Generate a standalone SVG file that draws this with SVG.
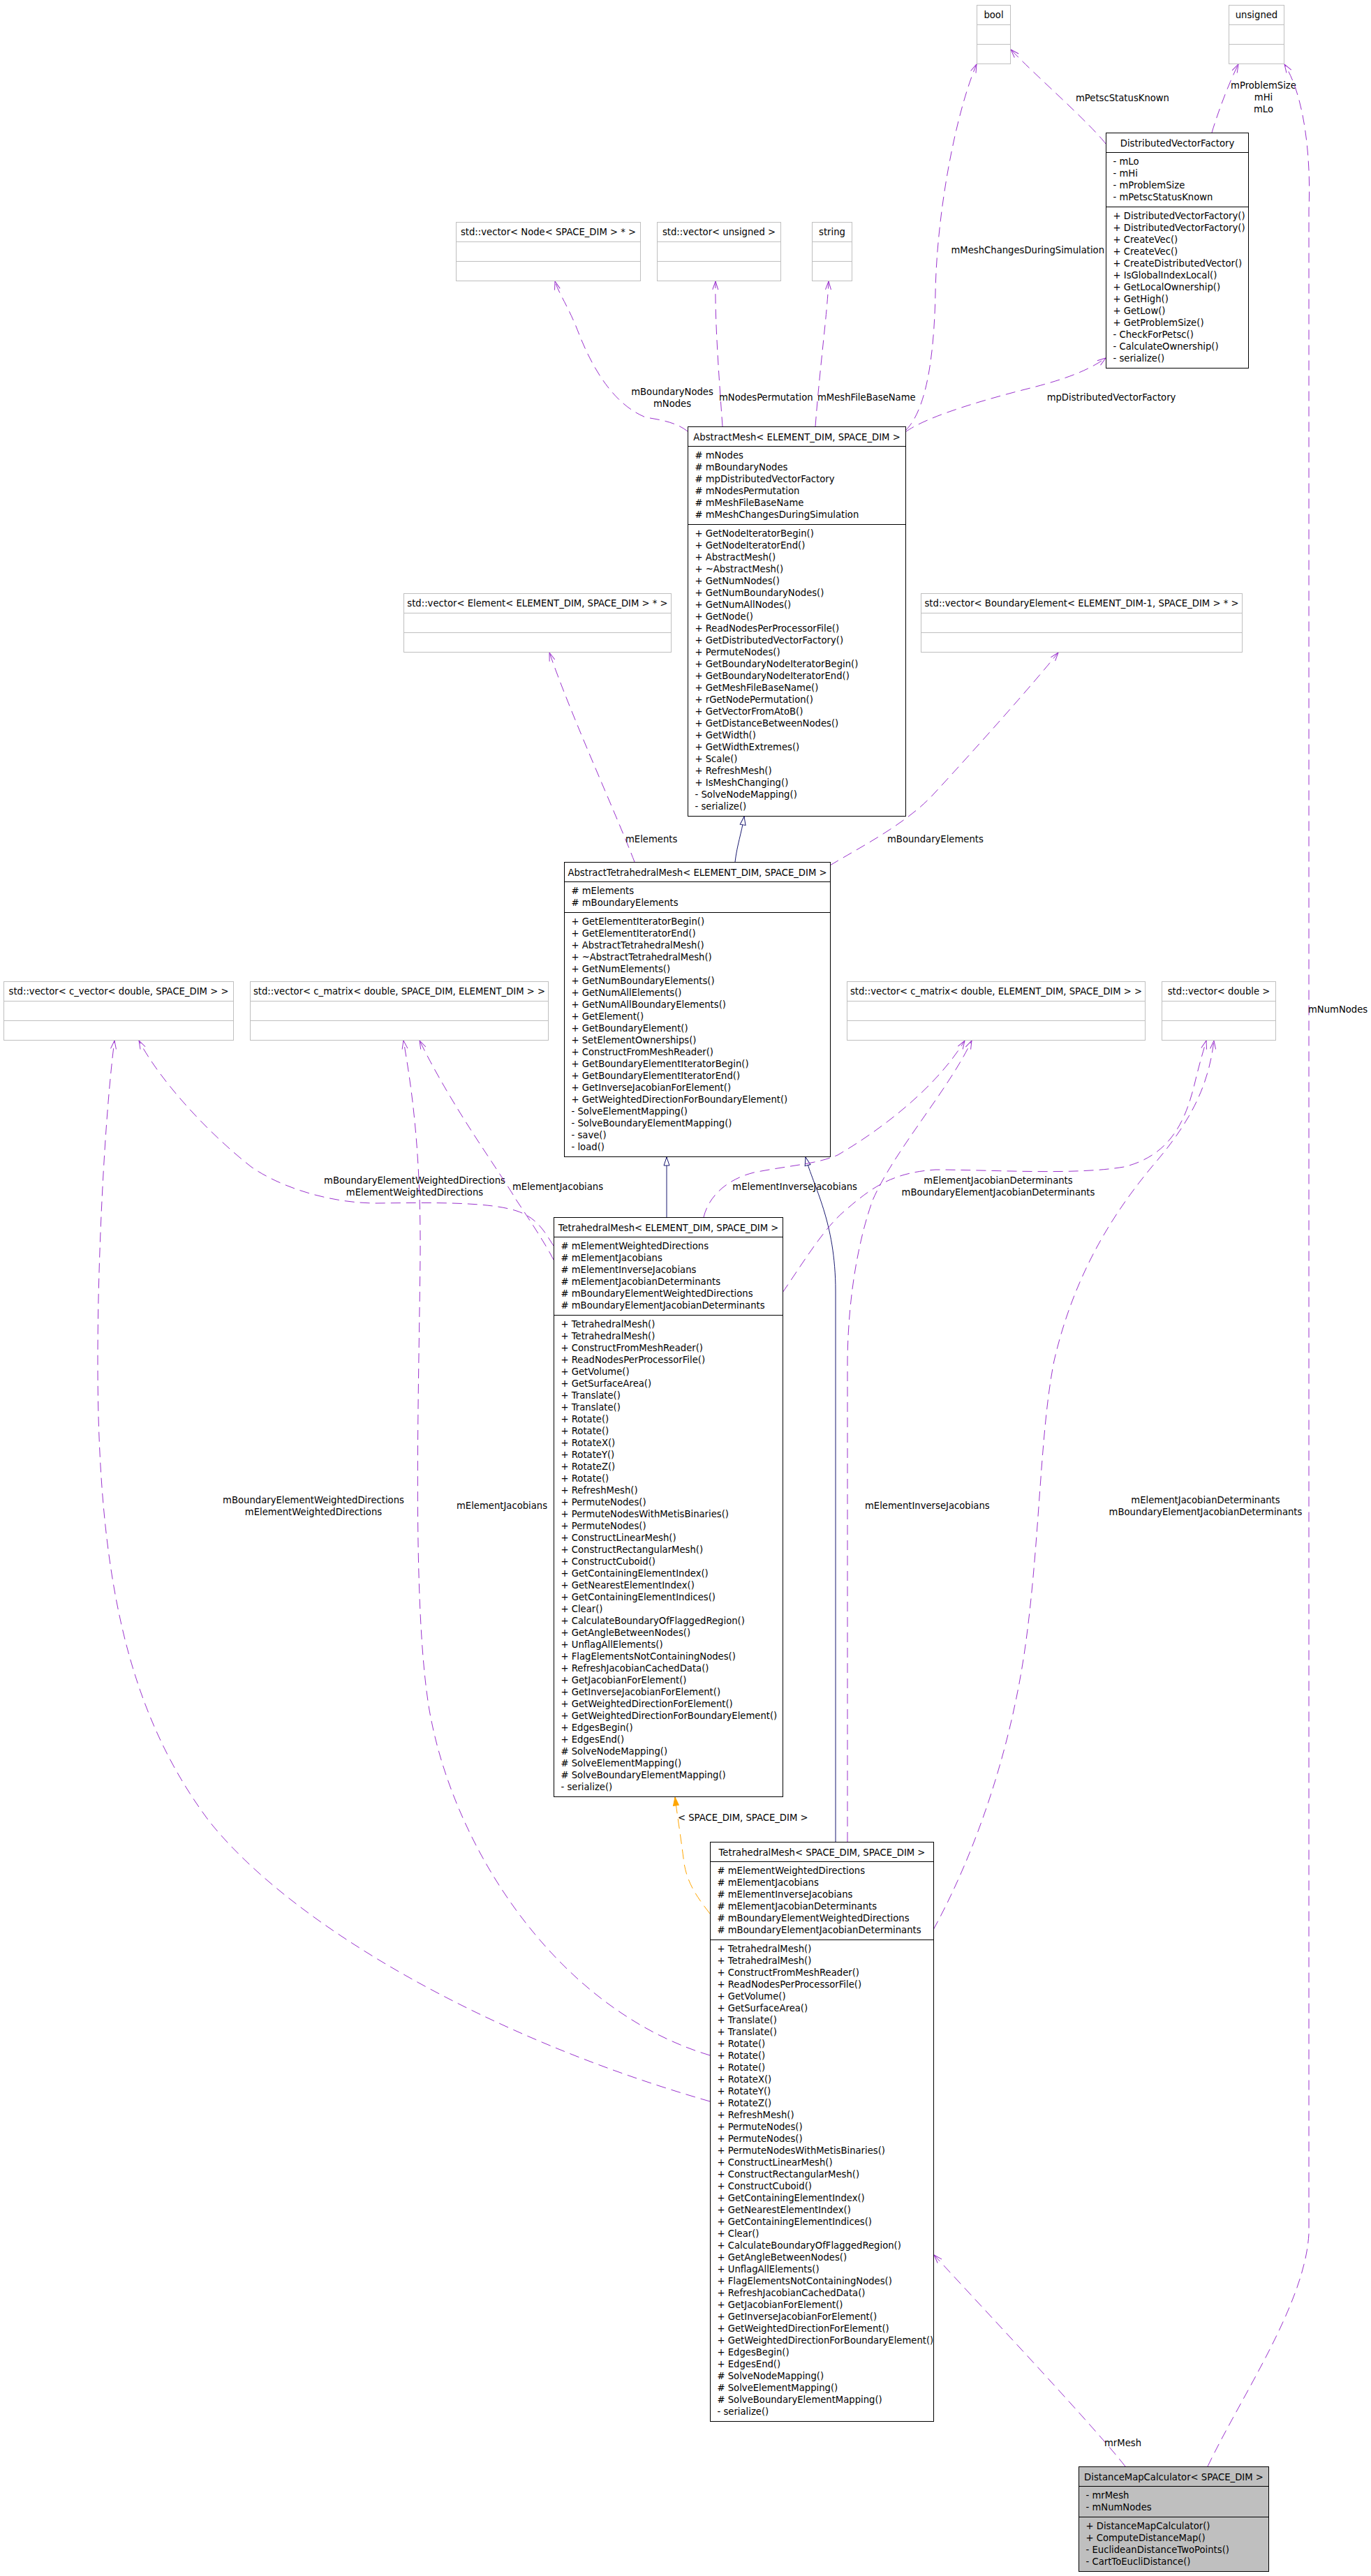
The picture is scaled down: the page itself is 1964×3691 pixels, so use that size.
<svg xmlns="http://www.w3.org/2000/svg" width="1964" height="3691" viewBox="0 0 1964 3691">
<style>
text{font-family:"DejaVu Sans","Liberation Sans",sans-serif;font-size:13.2px;fill:#000}
.c{text-anchor:middle}
.nb{fill:#fff;stroke:#000;stroke-width:1}
.gb{fill:#fff;stroke:#bfbfbf;stroke-width:1}
.db{fill:#bfbfbf;stroke:#000;stroke-width:1}
.nl{stroke:#000;stroke-width:1}
.gl{stroke:#bfbfbf;stroke-width:1}
.u{fill:none;stroke:#9a32cd;stroke-width:1;stroke-dasharray:14,8}
.h{fill:none;stroke:#191970;stroke-width:1}
.o{fill:none;stroke:#ffa500;stroke-width:1;stroke-dasharray:14,8}
</style>
<defs>
<marker id="ao" viewBox="0 0 14 10" refX="13" refY="5" markerWidth="14" markerHeight="10" markerUnits="userSpaceOnUse" orient="auto"><path d="M1,1 L13,5 L1,9" fill="none" stroke="#9a32cd"/></marker>
<marker id="ag" viewBox="0 0 14 10" refX="13" refY="5" markerWidth="14" markerHeight="10" markerUnits="userSpaceOnUse" orient="auto"><path d="M1,1 L13,5 L1,9 Z" fill="#fff" stroke="#191970"/></marker>
<marker id="at" viewBox="0 0 14 10" refX="13" refY="5" markerWidth="14" markerHeight="10" markerUnits="userSpaceOnUse" orient="auto"><path d="M1,1 L13,5 L1,9 Z" fill="#ffa500" stroke="#ffa500"/></marker>
</defs>
<g id="edges">
<path class="u" marker-end="url(#ao)" d="M1584,206 C1560,175 1480,105 1448,71"/>
<text x="1541" y="144.5">mPetscStatusKnown</text>
<path class="u" marker-end="url(#ao)" d="M1736,190 C1745,160 1760,120 1774,92"/>
<text class="c" x="1810" y="127">mProblemSize</text>
<text class="c" x="1810" y="144">mHi</text>
<text class="c" x="1810" y="161">mLo</text>
<path class="u" marker-end="url(#ao)" d="M1297,617 C1325,590 1338,520 1340,420 C1342,300 1370,160 1399,92"/>
<text x="1582" y="363" style="text-anchor:end">mMeshChangesDuringSimulation</text>
<path class="u" marker-end="url(#ao)" d="M1297,619 C1330,595 1420,570 1480,555 C1530,542 1560,530 1584,513"/>
<text class="c" x="1592" y="574">mpDistributedVectorFactory</text>
<path class="u" marker-end="url(#ao)" d="M985,618 C970,606 950,602 925,598 C880,580 850,530 830,480 C815,440 800,420 795,403"/>
<text class="c" x="963" y="565.5">mBoundaryNodes</text>
<text class="c" x="963" y="582.5">mNodes</text>
<path class="u" marker-end="url(#ao)" d="M1035,611 C1030,540 1024,460 1025,403"/>
<text x="1030" y="573.5">mNodesPermutation</text>
<path class="u" marker-end="url(#ao)" d="M1168,611 C1175,520 1185,450 1187,403"/>
<text x="1171" y="573.5">mMeshFileBaseName</text>
<path class="u" marker-end="url(#ao)" d="M909,1235 C880,1160 820,1030 787,935"/>
<text x="896" y="1207">mElements</text>
<path class="u" marker-end="url(#ao)" d="M1189,1240 C1230,1215 1300,1180 1340,1135 C1400,1070 1480,980 1516,935"/>
<text x="1271" y="1207">mBoundaryElements</text>
<path class="h" marker-end="url(#ag)" d="M1053,1235 C1056,1210 1062,1195 1066,1170"/>
<path class="h" marker-end="url(#ag)" d="M955,1744 L955,1658"/>
<path class="h" marker-end="url(#ag)" d="M1197,2639 L1197,1850 C1197,1750 1165,1700 1154,1658"/>
<path class="o" marker-end="url(#at)" d="M1017,2742 C1000,2720 985,2700 980,2670 C975,2630 970,2600 967,2575"/>
<text x="971" y="2609">&lt; SPACE_DIM, SPACE_DIM &gt;</text>
<path class="u" marker-end="url(#ao)" d="M1017,3011 C700,2920 420,2760 300,2610 C180,2450 140,2250 140,1950 C140,1800 150,1600 164,1491"/>
<text class="c" x="449" y="2153.5">mBoundaryElementWeightedDirections</text>
<text class="c" x="449" y="2170.5">mElementWeightedDirections</text>
<path class="u" marker-end="url(#ao)" d="M793,1785 C780,1765 770,1745 740,1735 C700,1722 620,1723 540,1724 C470,1724 400,1700 360,1672 C300,1625 230,1550 199,1491"/>
<text class="c" x="594" y="1695.5">mBoundaryElementWeightedDirections</text>
<text class="c" x="594" y="1712.5">mElementWeightedDirections</text>
<path class="u" marker-end="url(#ao)" d="M1017,2945 C800,2880 650,2650 615,2450 C590,2300 600,2000 602,1800 C603,1650 590,1560 578,1491"/>
<text x="654" y="2162">mElementJacobians</text>
<path class="u" marker-end="url(#ao)" d="M793,1805 C780,1780 760,1750 740,1720 C710,1670 650,1590 601,1491"/>
<text x="734" y="1705">mElementJacobians</text>
<path class="u" marker-end="url(#ao)" d="M1008,1744 C1015,1715 1040,1690 1080,1680 C1130,1670 1170,1668 1200,1655 C1260,1620 1340,1560 1382,1491"/>
<text x="1228" y="1705" style="text-anchor:end">mElementInverseJacobians</text>
<path class="u" marker-end="url(#ao)" d="M1214,2639 L1214,1950 C1215,1850 1232,1770 1250,1720 C1280,1650 1360,1560 1392,1491"/>
<text x="1239" y="2162">mElementInverseJacobians</text>
<path class="u" marker-end="url(#ao)" d="M1121,1852 C1150,1810 1180,1760 1210,1735 C1250,1700 1280,1680 1340,1676 C1420,1676 1540,1684 1610,1672 C1680,1655 1700,1600 1712,1550 C1718,1525 1724,1505 1728,1491"/>
<text class="c" x="1430" y="1695.5">mElementJacobianDeterminants</text>
<text class="c" x="1430" y="1712.5">mBoundaryElementJacobianDeterminants</text>
<path class="u" marker-end="url(#ao)" d="M1337,2765 C1400,2650 1450,2500 1470,2350 C1490,2200 1490,2050 1510,1950 C1540,1820 1600,1730 1660,1660 C1710,1600 1732,1550 1739,1491"/>
<text class="c" x="1727" y="2153.5">mElementJacobianDeterminants</text>
<text class="c" x="1727" y="2170.5">mBoundaryElementJacobianDeterminants</text>
<path class="u" marker-end="url(#ao)" d="M1612,3534 C1570,3480 1420,3320 1338,3231"/>
<text x="1582" y="3505">mrMesh</text>
<path class="u" marker-end="url(#ao)" d="M1730,3534 C1780,3430 1870,3300 1875,3200 L1875,300 C1878,230 1870,140 1840,92"/>
<text x="1874" y="1451">mNumNodes</text>
</g>
<g id="bool"><rect class="gb" x="1399.5" y="7.5" width="48" height="84"/><line class="gl" x1="1399.5" y1="35.5" x2="1447.5" y2="35.5"/><line class="gl" x1="1399.5" y1="63.5" x2="1447.5" y2="63.5"/><text class="c" x="1423.5" y="26">bool</text></g>
<g id="unsigned"><rect class="gb" x="1760.5" y="7.5" width="79" height="84"/><line class="gl" x1="1760.5" y1="35.5" x2="1839.5" y2="35.5"/><line class="gl" x1="1760.5" y1="63.5" x2="1839.5" y2="63.5"/><text class="c" x="1800" y="26">unsigned</text></g>
<g id="DistributedVectorFactory"><rect class="nb" x="1584.5" y="190.5" width="204" height="337"/><line class="nl" x1="1584.5" y1="218.5" x2="1788.5" y2="218.5"/><line class="nl" x1="1584.5" y1="296.5" x2="1788.5" y2="296.5"/>
<text class="c" x="1686.5" y="209.5">DistributedVectorFactory</text>
<text x="1594.5" y="235.5"><tspan x="1594.5" dy="0">- mLo</tspan><tspan x="1594.5" dy="17">- mHi</tspan><tspan x="1594.5" dy="17">- mProblemSize</tspan><tspan x="1594.5" dy="17">- mPetscStatusKnown</tspan></text>
<text x="1594.5" y="313.5"><tspan x="1594.5" dy="0">+ DistributedVectorFactory()</tspan><tspan x="1594.5" dy="17">+ DistributedVectorFactory()</tspan><tspan x="1594.5" dy="17">+ CreateVec()</tspan><tspan x="1594.5" dy="17">+ CreateVec()</tspan><tspan x="1594.5" dy="17">+ CreateDistributedVector()</tspan><tspan x="1594.5" dy="17">+ IsGlobalIndexLocal()</tspan><tspan x="1594.5" dy="17">+ GetLocalOwnership()</tspan><tspan x="1594.5" dy="17">+ GetHigh()</tspan><tspan x="1594.5" dy="17">+ GetLow()</tspan><tspan x="1594.5" dy="17">+ GetProblemSize()</tspan><tspan x="1594.5" dy="17">- CheckForPetsc()</tspan><tspan x="1594.5" dy="17">- CalculateOwnership()</tspan><tspan x="1594.5" dy="17">- serialize()</tspan></text></g>
<g id="vecNode"><rect class="gb" x="653.5" y="318.5" width="264" height="84"/><line class="gl" x1="653.5" y1="346.5" x2="917.5" y2="346.5"/><line class="gl" x1="653.5" y1="374.5" x2="917.5" y2="374.5"/><text class="c" x="785.5" y="337">std::vector&lt; Node&lt; SPACE_DIM &gt; * &gt;</text></g>
<g id="vecUnsigned"><rect class="gb" x="941.5" y="318.5" width="177" height="84"/><line class="gl" x1="941.5" y1="346.5" x2="1118.5" y2="346.5"/><line class="gl" x1="941.5" y1="374.5" x2="1118.5" y2="374.5"/><text class="c" x="1030" y="337">std::vector&lt; unsigned &gt;</text></g>
<g id="string"><rect class="gb" x="1163.5" y="318.5" width="57" height="84"/><line class="gl" x1="1163.5" y1="346.5" x2="1220.5" y2="346.5"/><line class="gl" x1="1163.5" y1="374.5" x2="1220.5" y2="374.5"/><text class="c" x="1192" y="337">string</text></g>
<g id="AbstractMesh"><rect class="nb" x="985.5" y="611.5" width="312" height="558"/><line class="nl" x1="985.5" y1="639.5" x2="1297.5" y2="639.5"/><line class="nl" x1="985.5" y1="751.5" x2="1297.5" y2="751.5"/>
<text class="c" x="1141.5" y="630.5">AbstractMesh&lt; ELEMENT_DIM, SPACE_DIM &gt;</text>
<text x="995.5" y="656.5"><tspan x="995.5" dy="0"># mNodes</tspan><tspan x="995.5" dy="17"># mBoundaryNodes</tspan><tspan x="995.5" dy="17"># mpDistributedVectorFactory</tspan><tspan x="995.5" dy="17"># mNodesPermutation</tspan><tspan x="995.5" dy="17"># mMeshFileBaseName</tspan><tspan x="995.5" dy="17"># mMeshChangesDuringSimulation</tspan></text>
<text x="995.5" y="768.5"><tspan x="995.5" dy="0">+ GetNodeIteratorBegin()</tspan><tspan x="995.5" dy="17">+ GetNodeIteratorEnd()</tspan><tspan x="995.5" dy="17">+ AbstractMesh()</tspan><tspan x="995.5" dy="17">+ ~AbstractMesh()</tspan><tspan x="995.5" dy="17">+ GetNumNodes()</tspan><tspan x="995.5" dy="17">+ GetNumBoundaryNodes()</tspan><tspan x="995.5" dy="17">+ GetNumAllNodes()</tspan><tspan x="995.5" dy="17">+ GetNode()</tspan><tspan x="995.5" dy="17">+ ReadNodesPerProcessorFile()</tspan><tspan x="995.5" dy="17">+ GetDistributedVectorFactory()</tspan><tspan x="995.5" dy="17">+ PermuteNodes()</tspan><tspan x="995.5" dy="17">+ GetBoundaryNodeIteratorBegin()</tspan><tspan x="995.5" dy="17">+ GetBoundaryNodeIteratorEnd()</tspan><tspan x="995.5" dy="17">+ GetMeshFileBaseName()</tspan><tspan x="995.5" dy="17">+ rGetNodePermutation()</tspan><tspan x="995.5" dy="17">+ GetVectorFromAtoB()</tspan><tspan x="995.5" dy="17">+ GetDistanceBetweenNodes()</tspan><tspan x="995.5" dy="17">+ GetWidth()</tspan><tspan x="995.5" dy="17">+ GetWidthExtremes()</tspan><tspan x="995.5" dy="17">+ Scale()</tspan><tspan x="995.5" dy="17">+ RefreshMesh()</tspan><tspan x="995.5" dy="17">+ IsMeshChanging()</tspan><tspan x="995.5" dy="17">- SolveNodeMapping()</tspan><tspan x="995.5" dy="17">- serialize()</tspan></text></g>
<g id="vecElement"><rect class="gb" x="578.5" y="850.5" width="383" height="84"/><line class="gl" x1="578.5" y1="878.5" x2="961.5" y2="878.5"/><line class="gl" x1="578.5" y1="906.5" x2="961.5" y2="906.5"/><text class="c" x="770" y="869">std::vector&lt; Element&lt; ELEMENT_DIM, SPACE_DIM &gt; * &gt;</text></g>
<g id="vecBoundaryElement"><rect class="gb" x="1319.5" y="850.5" width="460" height="84"/><line class="gl" x1="1319.5" y1="878.5" x2="1779.5" y2="878.5"/><line class="gl" x1="1319.5" y1="906.5" x2="1779.5" y2="906.5"/><text class="c" x="1549.5" y="869">std::vector&lt; BoundaryElement&lt; ELEMENT_DIM-1, SPACE_DIM &gt; * &gt;</text></g>
<g id="AbstractTetrahedralMesh"><rect class="nb" x="808.5" y="1235.5" width="381" height="422"/><line class="nl" x1="808.5" y1="1263.5" x2="1189.5" y2="1263.5"/><line class="nl" x1="808.5" y1="1307.5" x2="1189.5" y2="1307.5"/>
<text class="c" x="999" y="1254.5">AbstractTetrahedralMesh&lt; ELEMENT_DIM, SPACE_DIM &gt;</text>
<text x="818.5" y="1280.5"><tspan x="818.5" dy="0"># mElements</tspan><tspan x="818.5" dy="17"># mBoundaryElements</tspan></text>
<text x="818.5" y="1324.5"><tspan x="818.5" dy="0">+ GetElementIteratorBegin()</tspan><tspan x="818.5" dy="17">+ GetElementIteratorEnd()</tspan><tspan x="818.5" dy="17">+ AbstractTetrahedralMesh()</tspan><tspan x="818.5" dy="17">+ ~AbstractTetrahedralMesh()</tspan><tspan x="818.5" dy="17">+ GetNumElements()</tspan><tspan x="818.5" dy="17">+ GetNumBoundaryElements()</tspan><tspan x="818.5" dy="17">+ GetNumAllElements()</tspan><tspan x="818.5" dy="17">+ GetNumAllBoundaryElements()</tspan><tspan x="818.5" dy="17">+ GetElement()</tspan><tspan x="818.5" dy="17">+ GetBoundaryElement()</tspan><tspan x="818.5" dy="17">+ SetElementOwnerships()</tspan><tspan x="818.5" dy="17">+ ConstructFromMeshReader()</tspan><tspan x="818.5" dy="17">+ GetBoundaryElementIteratorBegin()</tspan><tspan x="818.5" dy="17">+ GetBoundaryElementIteratorEnd()</tspan><tspan x="818.5" dy="17">+ GetInverseJacobianForElement()</tspan><tspan x="818.5" dy="17">+ GetWeightedDirectionForBoundaryElement()</tspan><tspan x="818.5" dy="17">- SolveElementMapping()</tspan><tspan x="818.5" dy="17">- SolveBoundaryElementMapping()</tspan><tspan x="818.5" dy="17">- save()</tspan><tspan x="818.5" dy="17">- load()</tspan></text></g>
<g id="vecCVector"><rect class="gb" x="5.5" y="1406.5" width="329" height="84"/><line class="gl" x1="5.5" y1="1434.5" x2="334.5" y2="1434.5"/><line class="gl" x1="5.5" y1="1462.5" x2="334.5" y2="1462.5"/><text class="c" x="170" y="1425">std::vector&lt; c_vector&lt; double, SPACE_DIM &gt; &gt;</text></g>
<g id="vecCMatrixSE"><rect class="gb" x="358.5" y="1406.5" width="427" height="84"/><line class="gl" x1="358.5" y1="1434.5" x2="785.5" y2="1434.5"/><line class="gl" x1="358.5" y1="1462.5" x2="785.5" y2="1462.5"/><text class="c" x="572" y="1425">std::vector&lt; c_matrix&lt; double, SPACE_DIM, ELEMENT_DIM &gt; &gt;</text></g>
<g id="vecCMatrixES"><rect class="gb" x="1213.5" y="1406.5" width="427" height="84"/><line class="gl" x1="1213.5" y1="1434.5" x2="1640.5" y2="1434.5"/><line class="gl" x1="1213.5" y1="1462.5" x2="1640.5" y2="1462.5"/><text class="c" x="1427" y="1425">std::vector&lt; c_matrix&lt; double, ELEMENT_DIM, SPACE_DIM &gt; &gt;</text></g>
<g id="vecDouble"><rect class="gb" x="1664.5" y="1406.5" width="163" height="84"/><line class="gl" x1="1664.5" y1="1434.5" x2="1827.5" y2="1434.5"/><line class="gl" x1="1664.5" y1="1462.5" x2="1827.5" y2="1462.5"/><text class="c" x="1746" y="1425">std::vector&lt; double &gt;</text></g>
<g id="TetrahedralMeshES"><rect class="nb" x="793.5" y="1744.5" width="328" height="830"/><line class="nl" x1="793.5" y1="1772.5" x2="1121.5" y2="1772.5"/><line class="nl" x1="793.5" y1="1884.5" x2="1121.5" y2="1884.5"/>
<text class="c" x="957.5" y="1763.5">TetrahedralMesh&lt; ELEMENT_DIM, SPACE_DIM &gt;</text>
<text x="803.5" y="1789.5"><tspan x="803.5" dy="0"># mElementWeightedDirections</tspan><tspan x="803.5" dy="17"># mElementJacobians</tspan><tspan x="803.5" dy="17"># mElementInverseJacobians</tspan><tspan x="803.5" dy="17"># mElementJacobianDeterminants</tspan><tspan x="803.5" dy="17"># mBoundaryElementWeightedDirections</tspan><tspan x="803.5" dy="17"># mBoundaryElementJacobianDeterminants</tspan></text>
<text x="803.5" y="1901.5"><tspan x="803.5" dy="0">+ TetrahedralMesh()</tspan><tspan x="803.5" dy="17">+ TetrahedralMesh()</tspan><tspan x="803.5" dy="17">+ ConstructFromMeshReader()</tspan><tspan x="803.5" dy="17">+ ReadNodesPerProcessorFile()</tspan><tspan x="803.5" dy="17">+ GetVolume()</tspan><tspan x="803.5" dy="17">+ GetSurfaceArea()</tspan><tspan x="803.5" dy="17">+ Translate()</tspan><tspan x="803.5" dy="17">+ Translate()</tspan><tspan x="803.5" dy="17">+ Rotate()</tspan><tspan x="803.5" dy="17">+ Rotate()</tspan><tspan x="803.5" dy="17">+ RotateX()</tspan><tspan x="803.5" dy="17">+ RotateY()</tspan><tspan x="803.5" dy="17">+ RotateZ()</tspan><tspan x="803.5" dy="17">+ Rotate()</tspan><tspan x="803.5" dy="17">+ RefreshMesh()</tspan><tspan x="803.5" dy="17">+ PermuteNodes()</tspan><tspan x="803.5" dy="17">+ PermuteNodesWithMetisBinaries()</tspan><tspan x="803.5" dy="17">+ PermuteNodes()</tspan><tspan x="803.5" dy="17">+ ConstructLinearMesh()</tspan><tspan x="803.5" dy="17">+ ConstructRectangularMesh()</tspan><tspan x="803.5" dy="17">+ ConstructCuboid()</tspan><tspan x="803.5" dy="17">+ GetContainingElementIndex()</tspan><tspan x="803.5" dy="17">+ GetNearestElementIndex()</tspan><tspan x="803.5" dy="17">+ GetContainingElementIndices()</tspan><tspan x="803.5" dy="17">+ Clear()</tspan><tspan x="803.5" dy="17">+ CalculateBoundaryOfFlaggedRegion()</tspan><tspan x="803.5" dy="17">+ GetAngleBetweenNodes()</tspan><tspan x="803.5" dy="17">+ UnflagAllElements()</tspan><tspan x="803.5" dy="17">+ FlagElementsNotContainingNodes()</tspan><tspan x="803.5" dy="17">+ RefreshJacobianCachedData()</tspan><tspan x="803.5" dy="17">+ GetJacobianForElement()</tspan><tspan x="803.5" dy="17">+ GetInverseJacobianForElement()</tspan><tspan x="803.5" dy="17">+ GetWeightedDirectionForElement()</tspan><tspan x="803.5" dy="17">+ GetWeightedDirectionForBoundaryElement()</tspan><tspan x="803.5" dy="17">+ EdgesBegin()</tspan><tspan x="803.5" dy="17">+ EdgesEnd()</tspan><tspan x="803.5" dy="17"># SolveNodeMapping()</tspan><tspan x="803.5" dy="17"># SolveElementMapping()</tspan><tspan x="803.5" dy="17"># SolveBoundaryElementMapping()</tspan><tspan x="803.5" dy="17">- serialize()</tspan></text></g>
<g id="TetrahedralMeshSS"><rect class="nb" x="1017.5" y="2639.5" width="320" height="830"/><line class="nl" x1="1017.5" y1="2667.5" x2="1337.5" y2="2667.5"/><line class="nl" x1="1017.5" y1="2779.5" x2="1337.5" y2="2779.5"/>
<text class="c" x="1177.5" y="2658.5">TetrahedralMesh&lt; SPACE_DIM, SPACE_DIM &gt;</text>
<text x="1027.5" y="2684.5"><tspan x="1027.5" dy="0"># mElementWeightedDirections</tspan><tspan x="1027.5" dy="17"># mElementJacobians</tspan><tspan x="1027.5" dy="17"># mElementInverseJacobians</tspan><tspan x="1027.5" dy="17"># mElementJacobianDeterminants</tspan><tspan x="1027.5" dy="17"># mBoundaryElementWeightedDirections</tspan><tspan x="1027.5" dy="17"># mBoundaryElementJacobianDeterminants</tspan></text>
<text x="1027.5" y="2796.5"><tspan x="1027.5" dy="0">+ TetrahedralMesh()</tspan><tspan x="1027.5" dy="17">+ TetrahedralMesh()</tspan><tspan x="1027.5" dy="17">+ ConstructFromMeshReader()</tspan><tspan x="1027.5" dy="17">+ ReadNodesPerProcessorFile()</tspan><tspan x="1027.5" dy="17">+ GetVolume()</tspan><tspan x="1027.5" dy="17">+ GetSurfaceArea()</tspan><tspan x="1027.5" dy="17">+ Translate()</tspan><tspan x="1027.5" dy="17">+ Translate()</tspan><tspan x="1027.5" dy="17">+ Rotate()</tspan><tspan x="1027.5" dy="17">+ Rotate()</tspan><tspan x="1027.5" dy="17">+ Rotate()</tspan><tspan x="1027.5" dy="17">+ RotateX()</tspan><tspan x="1027.5" dy="17">+ RotateY()</tspan><tspan x="1027.5" dy="17">+ RotateZ()</tspan><tspan x="1027.5" dy="17">+ RefreshMesh()</tspan><tspan x="1027.5" dy="17">+ PermuteNodes()</tspan><tspan x="1027.5" dy="17">+ PermuteNodes()</tspan><tspan x="1027.5" dy="17">+ PermuteNodesWithMetisBinaries()</tspan><tspan x="1027.5" dy="17">+ ConstructLinearMesh()</tspan><tspan x="1027.5" dy="17">+ ConstructRectangularMesh()</tspan><tspan x="1027.5" dy="17">+ ConstructCuboid()</tspan><tspan x="1027.5" dy="17">+ GetContainingElementIndex()</tspan><tspan x="1027.5" dy="17">+ GetNearestElementIndex()</tspan><tspan x="1027.5" dy="17">+ GetContainingElementIndices()</tspan><tspan x="1027.5" dy="17">+ Clear()</tspan><tspan x="1027.5" dy="17">+ CalculateBoundaryOfFlaggedRegion()</tspan><tspan x="1027.5" dy="17">+ GetAngleBetweenNodes()</tspan><tspan x="1027.5" dy="17">+ UnflagAllElements()</tspan><tspan x="1027.5" dy="17">+ FlagElementsNotContainingNodes()</tspan><tspan x="1027.5" dy="17">+ RefreshJacobianCachedData()</tspan><tspan x="1027.5" dy="17">+ GetJacobianForElement()</tspan><tspan x="1027.5" dy="17">+ GetInverseJacobianForElement()</tspan><tspan x="1027.5" dy="17">+ GetWeightedDirectionForElement()</tspan><tspan x="1027.5" dy="17">+ GetWeightedDirectionForBoundaryElement()</tspan><tspan x="1027.5" dy="17">+ EdgesBegin()</tspan><tspan x="1027.5" dy="17">+ EdgesEnd()</tspan><tspan x="1027.5" dy="17"># SolveNodeMapping()</tspan><tspan x="1027.5" dy="17"># SolveElementMapping()</tspan><tspan x="1027.5" dy="17"># SolveBoundaryElementMapping()</tspan><tspan x="1027.5" dy="17">- serialize()</tspan></text></g>
<g id="DistanceMapCalculator"><rect class="db" x="1545.5" y="3534.5" width="272" height="150"/><line class="nl" x1="1545.5" y1="3562.5" x2="1817.5" y2="3562.5"/><line class="nl" x1="1545.5" y1="3606.5" x2="1817.5" y2="3606.5"/>
<text class="c" x="1681.5" y="3553.5">DistanceMapCalculator&lt; SPACE_DIM &gt;</text>
<text x="1555.5" y="3579.5"><tspan x="1555.5" dy="0">- mrMesh</tspan><tspan x="1555.5" dy="17">- mNumNodes</tspan></text>
<text x="1555.5" y="3623.5"><tspan x="1555.5" dy="0">+ DistanceMapCalculator()</tspan><tspan x="1555.5" dy="17">+ ComputeDistanceMap()</tspan><tspan x="1555.5" dy="17">- EuclideanDistanceTwoPoints()</tspan><tspan x="1555.5" dy="17">- CartToEucliDistance()</tspan></text></g>
</svg>
